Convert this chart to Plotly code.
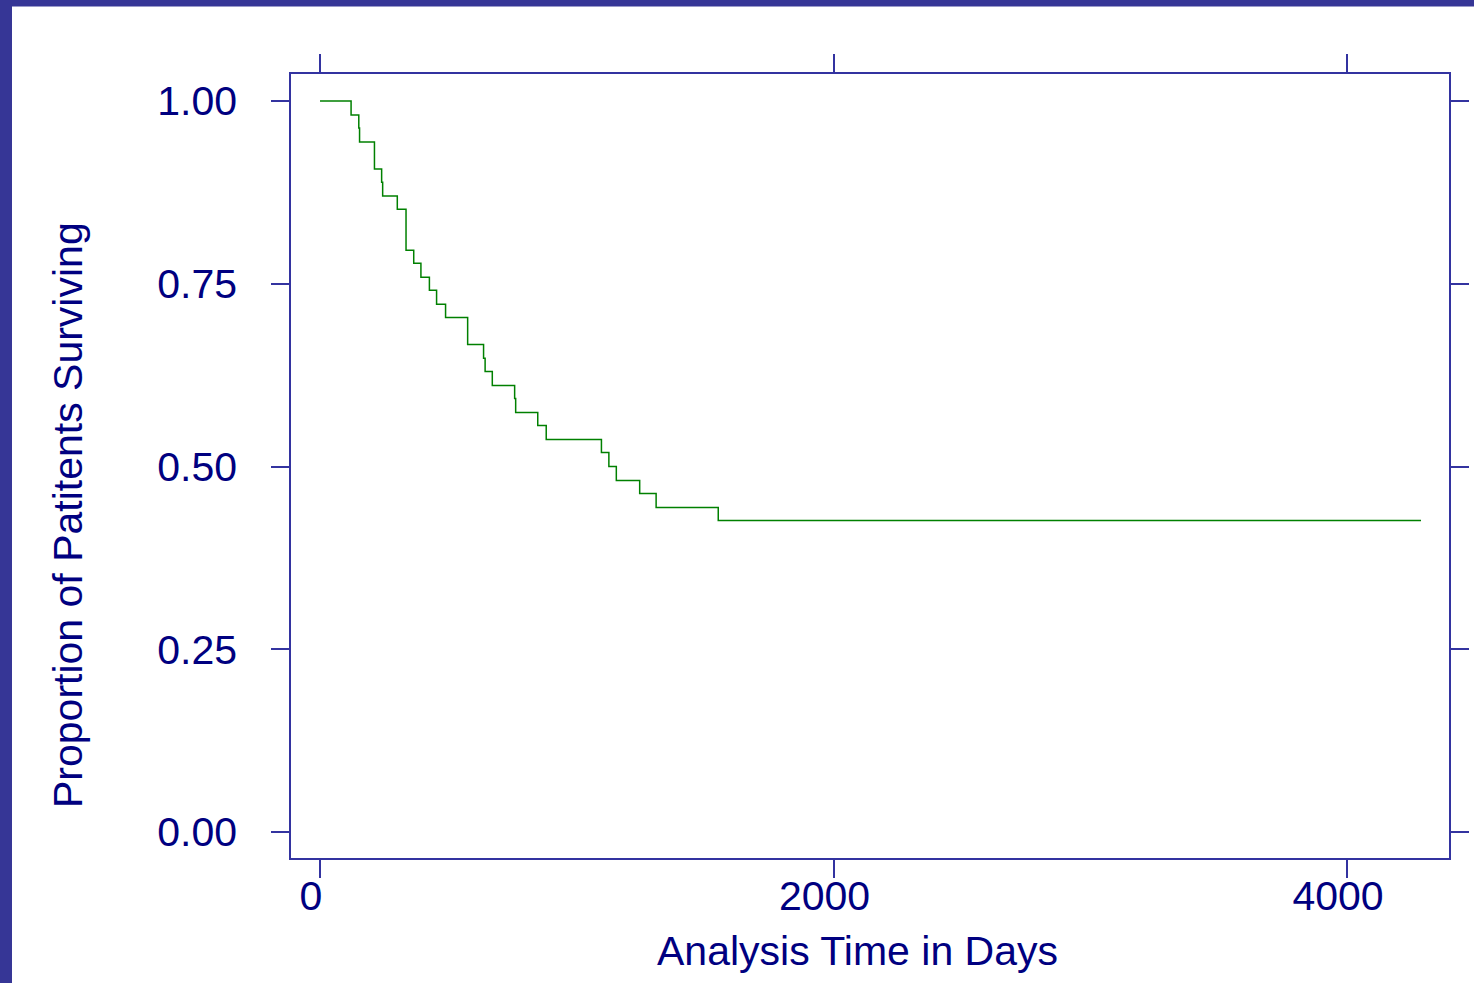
import plotly.graph_objects as go

# Kaplan-Meier step data
times = [0, 121, 151, 154, 212, 240, 244, 301, 335, 365, 393, 426, 454, 489, 575,
         637, 643, 671, 758, 762, 848, 881, 1096, 1125, 1154, 1245, 1309, 1551, 4288]
surv = [1.0, 0.981, 0.963, 0.944, 0.907, 0.889, 0.870, 0.852, 0.796, 0.778, 0.759,
        0.741, 0.722, 0.704, 0.667, 0.648, 0.630, 0.611, 0.593, 0.574, 0.556, 0.537,
        0.519, 0.500, 0.481, 0.463, 0.444, 0.426, 0.426]

x_ticks = [0, 2000, 4000]
x_ticklabels = ["0", "2000", "4000"]
y_ticks = [0.0, 0.25, 0.5, 0.75, 1.0]
y_ticklabels = ["0.00", "0.25", "0.50", "0.75", "1.00"]

NAVY = "#000080"
AXIS = "#3333a0"
FRAME = "#363696"
FONT = "Liberation Sans, Arial, sans-serif"
FS = 41

W, H = 1474, 983
L, R, T, B = 291, 1449, 74, 858

fig = go.Figure()
fig.add_trace(go.Scatter(
    x=times, y=surv, mode="lines", line=dict(color="#008000", width=1.5, shape="hv"),
    showlegend=False, hoverinfo="x+y"))

axis_common = dict(showgrid=False, zeroline=False, showline=True, linecolor=AXIS, linewidth=1.5,
                   ticks="outside", ticklen=18, tickwidth=1.5, tickcolor=AXIS, mirror="ticks",
                   automargin=False,
                   tickfont=dict(family=FONT, size=FS, color=NAVY))

fig.update_layout(
    width=W, height=H, autosize=False,
    margin=dict(l=L, r=W - R, t=T, b=H - B, pad=0, autoexpand=False),
    paper_bgcolor="white", plot_bgcolor="white",
    xaxis=dict(range=[-113, 4397], tickvals=x_ticks, ticktext=x_ticklabels,
               ticklabelshift=-9, ticklabelstandoff=-17, **axis_common),
    yaxis=dict(range=[-0.0356, 1.037], tickvals=y_ticks, ticktext=y_ticklabels,
               ticklabelstandoff=26, **axis_common),
    font=dict(family=FONT, color=NAVY),
)

pw, ph = R - L, B - T

def px(xp):
    return (xp - L) / pw

def py(yp):
    return (B - yp) / ph

# frame bands (left and top)
fig.add_shape(type="rect", xref="paper", yref="paper", x0=px(-5), x1=px(12), y0=py(H + 5), y1=py(-5),
              fillcolor=FRAME, line=dict(width=0), layer="below")
fig.add_shape(type="rect", xref="paper", yref="paper", x0=px(-5), x1=px(W + 5), y0=py(6.5), y1=py(-5),
              fillcolor=FRAME, line=dict(width=0), layer="below")

fig.add_annotation(text="Analysis Time in Days", xref="paper", yref="paper",
                   x=px(857), y=py(951), xanchor="center", yanchor="middle", showarrow=False,
                   font=dict(family=FONT, size=FS, color=NAVY))
fig.add_annotation(text="Proportion of Patitents Surviving", xref="paper", yref="paper",
                   x=px(68), y=py(515), xanchor="center", yanchor="middle", showarrow=False,
                   textangle=-90, font=dict(family=FONT, size=FS, color=NAVY))

fig.write_html("out.html", config={"displayModeBar": False, "responsive": False},
               post_script="document.body.style.margin='0';document.body.style.overflow='hidden';")
